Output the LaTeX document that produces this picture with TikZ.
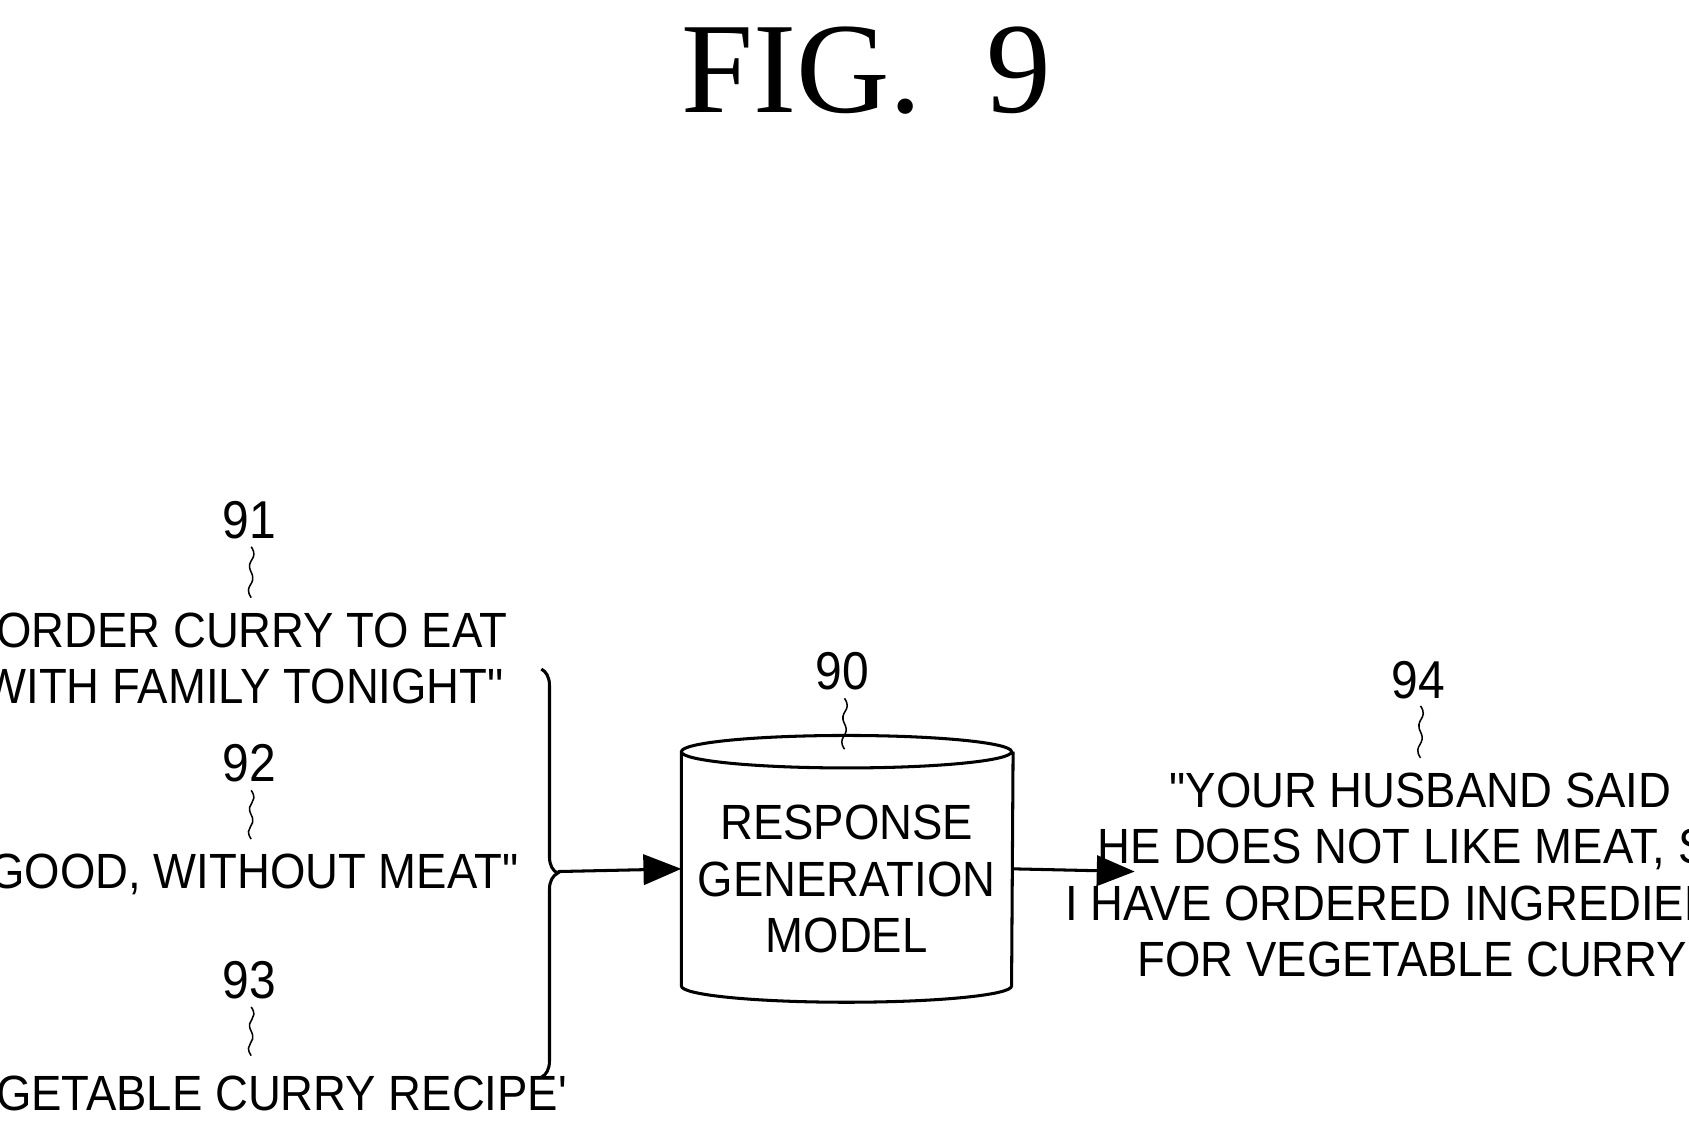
\documentclass[tikz,border=0pt]{standalone}
\usepackage{fontspec}
\setmainfont{Liberation Sans}
\newfontfamily\titlefont{Liberation Serif}
\usetikzlibrary{positioning,decorations.pathreplacing,arrows.meta,calc}
\tikzset{
    txt/.style={align=center, font=\fontsize{13}{12}\selectfont, inner sep=0pt, xscale=0.92, transform shape},
    refnum/.style={font=\fontsize{14}{14}\selectfont, inner sep=0pt, xscale=0.9, transform shape},
    leader/.style={thin},
    flow/.style={thick,-{Triangle[length=3.5mm,width=2.8mm]}},
    }
\newcommand{\squig}[2]{\draw[leader] (#1) .. controls +(0.08,-0.12) and +(-0.06,0.12) .. ($(#1)!0.5!(#2)$) .. controls +(0.06,-0.12) and +(-0.08,0.12) .. (#2);}
\newcommand{\dq}{\textquotedbl}
\newcommand{\sq}{\textquotesingle}

\begin{document}
\begin{tikzpicture}
\useasboundingbox (0,0) rectangle (15.6,10.4);
\node[font=\titlefont\fontsize{34}{34}\selectfont] (title) at (8.0,9.75) {FIG.~~9};

% inputs
\node[refnum] (n91) at (2.30,5.60) {91};
\node[txt] (in1) at (2.25,4.32) {\dq ORDER CURRY TO EAT\\[0.1cm]WITH FAMILY TONIGHT\dq};
\node[refnum] (n92) at (2.30,3.35) {92};
\node[txt] (in2) at (2.27,2.32) {\dq GOOD, WITHOUT MEAT\dq};
\node[refnum] (n93) at (2.30,1.35) {93};
\node[txt] (in3) at (2.28,0.30) {\sq VEGETABLE CURRY RECIPE\sq};
\coordinate (a91) at (2.32,5.35); \coordinate (b91) at (2.32,4.88);
\coordinate (a92) at (2.32,3.10); \coordinate (b92) at (2.32,2.65);
\coordinate (a93) at (2.32,1.10); \coordinate (b93) at (2.32,0.65);
\squig{a91}{b91}
\squig{a92}{b92}
\squig{a93}{b93}

% brace
\coordinate (btop) at (5.00,4.22);
\coordinate (bbot) at (5.00,0.45);
\draw[thick,decorate,decoration={brace,amplitude=0.15cm}] (btop) -- (bbot);
\coordinate (btip) at (5.15,2.35);

% model
\node[minimum width=3.05cm, minimum height=2.15cm, inner sep=0pt] (model) at (7.825,2.375) {};
\draw[thick] (model.north west) arc[start angle=180,end angle=360,x radius=1.525cm,y radius=0.15cm]
    arc[start angle=0,end angle=180,x radius=1.525cm,y radius=0.15cm] -- (model.south west)
    arc[start angle=180,end angle=360,x radius=1.525cm,y radius=0.15cm] -- (model.north east);
\node[txt] (mtext) at (7.82,2.28) {RESPONSE\\[0.1cm]GENERATION\\[0.1cm]MODEL};
\node[refnum] (n90) at (7.78,4.20) {90};
\coordinate (a90) at (7.80,3.95); \coordinate (b90) at (7.80,3.48);
\squig{a90}{b90}

% output
\node[txt] (out) at (13.12,2.32) {\dq YOUR HUSBAND SAID\\[0.1cm]HE DOES NOT LIKE MEAT, SO\\[0.1cm]I HAVE ORDERED INGREDIENTS\\[0.1cm]FOR VEGETABLE CURRY\dq};
\node[refnum] (n94) at (13.10,4.12) {94};
\coordinate (a94) at (13.12,3.88); \coordinate (b94) at (13.12,3.40);
\squig{a94}{b94}

\draw[flow] (btip) -- (model.west);
\draw[flow] (model.east) -- (10.48,2.35);
\end{tikzpicture}
\end{document}
